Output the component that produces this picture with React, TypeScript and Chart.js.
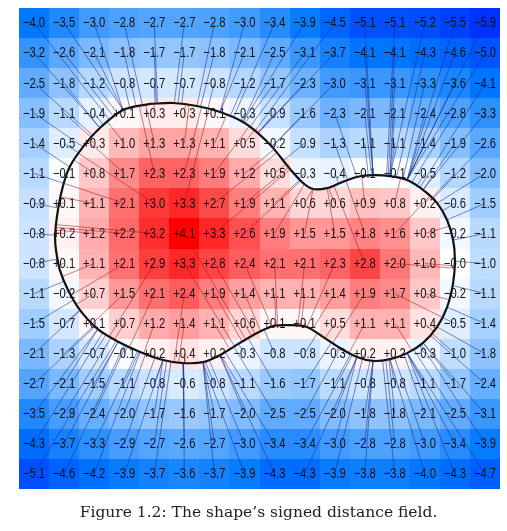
import React, { useEffect, useRef } from 'react';
import { Chart, registerables } from 'chart.js';

Chart.register(...registerables);

// Signed distance values, one array per grid row (top to bottom), 16 columns each
const row01 = [-4.0, -3.5, -3.0, -2.8, -2.7, -2.7, -2.8, -3.0, -3.4, -3.9, -4.5, -5.1, -5.1, -5.2, -5.5, -5.9];
const row02 = [-3.2, -2.6, -2.1, -1.8, -1.7, -1.7, -1.8, -2.1, -2.5, -3.1, -3.7, -4.1, -4.1, -4.3, -4.6, -5.0];
const row03 = [-2.5, -1.8, -1.2, -0.8, -0.7, -0.7, -0.8, -1.2, -1.7, -2.3, -3.0, -3.1, -3.1, -3.3, -3.6, -4.1];
const row04 = [-1.9, -1.1, -0.4, 0.1, 0.3, 0.3, 0.1, -0.3, -0.9, -1.6, -2.3, -2.1, -2.1, -2.4, -2.8, -3.3];
const row05 = [-1.4, -0.5, 0.3, 1.0, 1.3, 1.3, 1.1, 0.5, -0.2, -0.9, -1.3, -1.1, -1.1, -1.4, -1.9, -2.6];
const row06 = [-1.1, -0.1, 0.8, 1.7, 2.3, 2.3, 1.9, 1.2, 0.5, -0.3, -0.4, -0.1, -0.1, -0.5, -1.2, -2.0];
const row07 = [-0.9, 0.1, 1.1, 2.1, 3.0, 3.3, 2.7, 1.9, 1.1, 0.6, 0.6, 0.9, 0.8, 0.2, -0.6, -1.5];
const row08 = [-0.8, 0.2, 1.2, 2.2, 3.2, 4.1, 3.3, 2.6, 1.9, 1.5, 1.5, 1.8, 1.6, 0.8, -0.2, -1.1];
const row09 = [-0.8, 0.1, 1.1, 2.1, 2.9, 3.3, 2.8, 2.4, 2.1, 2.1, 2.3, 2.8, 2.0, 1.0, -0.0, -1.0];
const row10 = [-1.1, -0.2, 0.7, 1.5, 2.1, 2.4, 1.9, 1.4, 1.1, 1.1, 1.4, 1.9, 1.7, 0.8, -0.2, -1.1];
const row11 = [-1.5, -0.7, 0.1, 0.7, 1.2, 1.4, 1.1, 0.6, 0.1, 0.1, 0.5, 1.1, 1.1, 0.4, -0.5, -1.4];
const row12 = [-2.1, -1.3, -0.7, -0.1, 0.2, 0.4, 0.2, -0.3, -0.8, -0.8, -0.3, 0.2, 0.2, -0.3, -1.0, -1.8];
const row13 = [-2.7, -2.1, -1.5, -1.1, -0.8, -0.6, -0.8, -1.1, -1.6, -1.7, -1.1, -0.8, -0.8, -1.1, -1.7, -2.4];
const row14 = [-3.5, -2.9, -2.4, -2.0, -1.7, -1.6, -1.7, -2.0, -2.5, -2.5, -2.0, -1.8, -1.8, -2.1, -2.5, -3.1];
const row15 = [-4.3, -3.7, -3.3, -2.9, -2.7, -2.6, -2.7, -3.0, -3.4, -3.4, -3.0, -2.8, -2.8, -3.0, -3.4, -3.9];
const row16 = [-5.1, -4.6, -4.2, -3.9, -3.7, -3.6, -3.7, -3.9, -4.3, -4.3, -3.9, -3.8, -3.8, -4.0, -4.3, -4.7];

const gridRows = [row01, row02, row03, row04, row05, row06, row07, row08, row09, row10, row11, row12, row13, row14, row15, row16];

// Shape outline in grid units (x: columns from left, y: rows from top)
const outlineX = [
  4.36, 5.12, 5.92, 6.69, 7.45, 7.95, 8.42, 9.02, 9.45, 9.78, 10.25, 10.68, 11.24, 11.78, 12.34, 12.91, 13.44, 13.91,
  14.24, 14.44, 14.5, 14.44, 14.24, 13.91, 13.44, 12.91, 12.34, 11.78, 11.24, 10.68, 10.11, 9.58, 9.02, 8.45, 7.92,
  7.35, 6.69, 6.12, 5.46, 4.79, 4.03, 3.3, 2.62, 2.03, 1.63, 1.36, 1.23, 1.2, 1.26, 1.43, 1.68, 2.13, 2.69, 3.46,
];
const outlineY = [
  3.19, 3.16, 3.26, 3.46, 3.79, 4.16, 4.62, 5.36, 5.82, 6.02, 5.99, 5.82, 5.62, 5.56, 5.59, 5.72, 6.05, 6.49,
  7.05, 7.72, 8.38, 9.15, 9.95, 10.61, 11.14, 11.48, 11.68, 11.74, 11.61, 11.31, 10.94, 10.61, 10.55, 10.58, 10.81,
  11.14, 11.54, 11.78, 11.81, 11.71, 11.44, 11.1, 10.68, 10.05, 9.38, 8.72, 8.05, 7.62, 6.95, 6.05, 5.3, 4.62, 3.99, 3.39,
];

const captionText = 'Figure 1.2: The shape’s signed distance field.';

function cellColor(v: number): string {
  if (v > 0 || (v === 0 && !Object.is(v, -0))) {
    const t = Math.min(1, v / 4.1);
    const g = Math.round(255 * Math.pow(1 - t, 1.15));
    return `rgb(255,${g},${g})`;
  }
  const t = Math.min(1, -v / 5.9);
  if (t <= 0.68) {
    const s = t / 0.68;
    return `rgb(${Math.round(255 * (1 - s))},${Math.round(255 - 135 * s)},255)`;
  }
  const s = (t - 0.68) / 0.32;
  return `rgb(0,${Math.round(120 - 70 * s)},255)`;
}

function formatValue(v: number): string {
  const neg = v < 0 || Object.is(v, -0);
  return (neg ? '\u2212' : '+') + Math.abs(v).toFixed(1);
}

function closestOnOutline(px: number, py: number): { x: number; y: number } {
  let best = Infinity;
  let bx = 0;
  let by = 0;
  const n = outlineX.length;
  for (let i = 0; i < n; i++) {
    const j = (i + 1) % n;
    const ax = outlineX[i], ay = outlineY[i];
    const dx = outlineX[j] - ax, dy = outlineY[j] - ay;
    const len2 = dx * dx + dy * dy;
    let t = len2 > 0 ? ((px - ax) * dx + (py - ay) * dy) / len2 : 0;
    t = Math.max(0, Math.min(1, t));
    const cx = ax + t * dx, cy = ay + t * dy;
    const d = (px - cx) * (px - cx) + (py - cy) * (py - cy);
    if (d < best) {
      best = d;
      bx = cx;
      by = cy;
    }
  }
  return { x: bx, y: by };
}

const heatPlugin = {
  id: 'heatCells',
  beforeDatasetsDraw(chart: any) {
    const { ctx } = chart;
    const xs = chart.scales.x;
    const ys = chart.scales.y;
    ctx.save();
    gridRows.forEach((row, r) => {
      row.forEach((v, c) => {
        const x0 = Math.round(xs.getPixelForValue(c));
        const x1 = Math.round(xs.getPixelForValue(c + 1));
        const y0 = Math.round(ys.getPixelForValue(r));
        const y1 = Math.round(ys.getPixelForValue(r + 1));
        ctx.fillStyle = cellColor(v);
        ctx.fillRect(Math.min(x0, x1), Math.min(y0, y1), Math.abs(x1 - x0), Math.abs(y1 - y0));
      });
    });
    ctx.fillStyle = '#111111';
    ctx.font = "14px 'Liberation Sans', Arial, sans-serif";
    ctx.textAlign = 'center';
    ctx.textBaseline = 'middle';
    gridRows.forEach((row, r) => {
      row.forEach((v, c) => {
        const cx = xs.getPixelForValue(c + 0.5);
        const cy = ys.getPixelForValue(r + 0.5);
        ctx.save();
        ctx.translate(cx, cy + 0.5);
        ctx.scale(0.8, 1);
        ctx.fillText(formatValue(v), 0, 0);
        ctx.restore();
      });
    });
    ctx.restore();
  },
};

function buildLines(inside: boolean) {
  const pts: { x: number; y: number }[] = [];
  gridRows.forEach((row, r) => {
    row.forEach((v, c) => {
      const isIn = v > 0;
      if (isIn !== inside) return;
      const px = c + 0.5;
      const py = r + 0.5;
      const q = closestOnOutline(px, py);
      pts.push({ x: px, y: py });
      pts.push({ x: q.x, y: q.y });
      pts.push({ x: NaN, y: NaN });
    });
  });
  return pts;
}

export default function App() {
  const canvasRef = useRef<HTMLCanvasElement | null>(null);

  useEffect(() => {
    if (!canvasRef.current) return;
    const outline = outlineX.map((x, i) => ({ x, y: outlineY[i] }));
    outline.push({ x: outlineX[0], y: outlineY[0] });
    const chart = new Chart(canvasRef.current, {
      type: 'scatter',
      data: {
        datasets: [
          {
            data: buildLines(true),
            showLine: true,
            spanGaps: false,
            borderColor: 'rgba(160,20,20,0.55)',
            borderWidth: 1,
            pointRadius: 0,
          },
          {
            data: buildLines(false),
            showLine: true,
            spanGaps: false,
            borderColor: 'rgba(15,45,140,0.55)',
            borderWidth: 1,
            pointRadius: 0,
          },
          {
            data: outline,
            showLine: true,
            borderColor: '#111111',
            borderWidth: 2.2,
            pointRadius: 0,
            tension: 0.3,
          },
        ],
      } as any,
      options: {
        animation: false,
        responsive: false,
        events: [],
        layout: { padding: { left: 19, top: 8, right: 7, bottom: 42 } },
        scales: {
          x: { type: 'linear', min: 0, max: 16, display: false },
          y: { type: 'linear', min: 0, max: 16, reverse: true, display: false },
        },
        plugins: { legend: { display: false }, tooltip: { enabled: false } },
      } as any,
      plugins: [heatPlugin],
    });
    return () => chart.destroy();
  }, []);

  return (
    <div style={{ position: 'absolute', left: 0, top: 0, width: 507, height: 531, background: '#ffffff' }}>
      <canvas ref={canvasRef} width={507} height={531} style={{ display: 'block', width: 507, height: 531 }} />
      <div
        style={{
          position: 'absolute',
          left: 0,
          top: 502,
          width: 517,
          textAlign: 'center',
          fontFamily: "'DejaVu Serif', serif",
          fontSize: 15.5,
          lineHeight: '20px',
          color: '#222222',
          whiteSpace: 'nowrap',
        }}
      >
        {captionText}
      </div>
    </div>
  );
}
